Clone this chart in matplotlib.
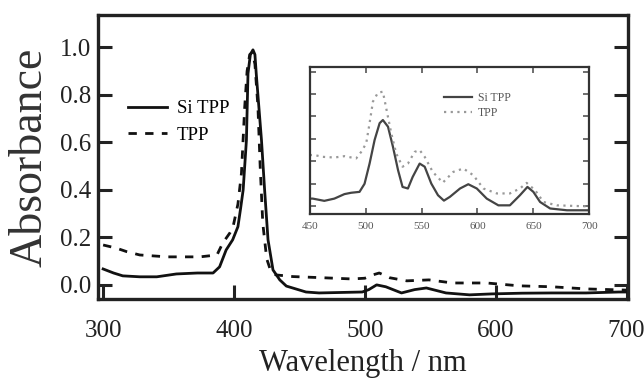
import numpy as np
import matplotlib
matplotlib.use("Agg")
import matplotlib.pyplot as plt

plt.rcParams['font.family'] = ['Liberation Serif', 'DejaVu Serif']

# main spectrum (wavelength nm, absorbance)
wl_sitpp = [300, 308, 315, 328, 341, 356, 372, 384, 389, 394, 399, 403, 405, 407, 409.5,
            410.7, 412.5, 414.5, 416, 417, 419, 421, 423.4, 426, 429.8, 435, 440, 455,
            465, 498, 503, 509, 516, 528, 538, 547, 562, 580, 597, 620, 643, 669, 694, 700]
abs_sitpp = [0.067, 0.05, 0.038, 0.034, 0.034, 0.046, 0.05, 0.05, 0.076, 0.147, 0.19,
             0.245, 0.32, 0.40, 0.61, 0.89, 0.97, 0.99, 0.97, 0.89, 0.75, 0.61, 0.40, 0.19,
             0.063, 0.021, -0.005, -0.03, -0.034, -0.03, -0.02, 0.0, -0.008, -0.034,
             -0.02, -0.013, -0.034, -0.042, -0.038, -0.035, -0.034, -0.034, -0.03, -0.03]

wl_tpp = [300, 310, 318, 328, 349, 374, 387, 391.4, 397, 399.3, 403, 405.7, 408.2, 410,
          412, 414, 416, 418.3, 420, 422, 425, 428, 432, 445, 468, 490, 500, 506, 511,
          519, 532, 549, 567, 593, 618, 643, 669, 694, 700]
abs_tpp = [0.168, 0.155, 0.14, 0.126, 0.118, 0.118, 0.126, 0.176, 0.22, 0.245, 0.34,
           0.47, 0.75, 0.9, 0.97, 0.98, 0.93, 0.75, 0.5, 0.26, 0.11, 0.06, 0.042, 0.035,
           0.03, 0.025, 0.028, 0.042, 0.05, 0.03, 0.017, 0.021, 0.008, 0.008, -0.004,
           -0.008, -0.017, -0.021, -0.022]

# inset (Q-band region, arbitrary scale)
in_wl_sitpp = [450, 452.7, 463, 472, 481, 487, 494.5, 499, 503.5, 508, 512.5, 515.4, 520,
               524.4, 529, 533, 537.8, 542, 548.3, 552.8, 558.7, 564.7, 570, 575.4, 584.4,
               591.8, 599.4, 608.3, 618.7, 629, 638, 644.7, 650, 656, 665, 680, 695, 700]
in_sitpp = [0.0034, 0.0034, 0.0024, 0.0034, 0.0054, 0.006, 0.0064, 0.010, 0.019, 0.0295,
            0.037, 0.0384, 0.0354, 0.0265, 0.016, 0.0086, 0.0079, 0.013, 0.019, 0.0176,
            0.0101, 0.0049, 0.0025, 0.0042, 0.0079, 0.0098, 0.0079, 0.0034, 0.0004,
            0.0004, 0.0049, 0.0086, 0.0064, 0.0019, -0.001, -0.0018, -0.0018, -0.0018]

in_wl_tpp = [450, 454, 461.6, 472, 481, 491.5, 496, 500.5, 503.5, 506.5, 511, 515.4,
             519.3, 522.9, 527.3, 533, 537.8, 543.8, 548.3, 552.8, 560, 569, 578.4, 587.4,
             596.3, 605.3, 617.3, 629, 638, 644, 651.6, 659, 671, 695, 700]
in_tpp = [0.0228, 0.0228, 0.022, 0.0217, 0.0223, 0.0213, 0.0242, 0.028, 0.037, 0.0466,
          0.0506, 0.051, 0.0414, 0.0325, 0.0235, 0.0176, 0.019, 0.0242, 0.025, 0.022,
          0.0153, 0.0105, 0.0153, 0.0168, 0.0138, 0.0079, 0.0057, 0.0057, 0.0079, 0.0104,
          0.0071, 0.0019, 0.0004, 0.0, 0.0]

main_xticks = [300, 400, 500, 600, 700]
main_yticks = [0.0, 0.2, 0.4, 0.6, 0.8, 1.0]
inset_xticks = [450, 500, 550, 600, 650, 700]

fig = plt.figure(figsize=(6.44, 3.83), dpi=100)
ax = fig.add_axes([0.152, 0.219, 0.823, 0.742])

ax.plot(wl_sitpp, abs_sitpp, color='#111111', lw=2.0, label='Si TPP')
ax.plot(wl_tpp, abs_tpp, color='#111111', lw=2.0, ls=(0, (3, 3)), label='TPP')

ax.set_xlim(296, 701)
ax.set_ylim(-0.06, 1.137)
ax.set_xticks(main_xticks)
ax.set_yticks(main_yticks)
ax.set_yticklabels(['%.1f' % v for v in main_yticks])
ax.tick_params(direction='in', length=10, width=2.2, labelsize=18, colors='#222222')
ax.tick_params(axis='x', pad=15)
ax.tick_params(axis='y', pad=5, right=True)
for s in ax.spines.values():
    s.set_linewidth(2.4)
    s.set_color('#222222')

ax.set_xlabel('Wavelength / nm', fontsize=22, color='#222222', labelpad=5)
ax.set_ylabel('Absorbance', fontsize=33, color='#333333', labelpad=6)

ax.legend(loc='upper left', bbox_to_anchor=(0.057, 0.70), frameon=False, fontsize=13.5,
          handlelength=2.1, handletextpad=0.5, labelspacing=0.5, borderpad=0,
          borderaxespad=0)

# inset
ins = fig.add_axes([0.481, 0.441, 0.434, 0.384])
ins.plot(in_wl_sitpp, in_sitpp, color='#444444', lw=1.6, label='Si TPP')
ins.plot(in_wl_tpp, in_tpp, color='#999999', lw=1.6, ls=(0, (1, 2)), label='TPP')
ins.set_xlim(450, 700)
ins.set_ylim(-0.0035, 0.062)
ins.set_xticks(inset_xticks)
ins.set_yticks(np.arange(0, 0.061, 0.01))
ins.set_yticklabels([])
ins.tick_params(direction='in', length=4, width=1.2, labelsize=8, colors='#555555',
                top=True, right=True, pad=6)
for s in ins.spines.values():
    s.set_linewidth(1.6)
    s.set_color('#333333')
ins.legend(loc='upper left', bbox_to_anchor=(0.48, 0.83), frameon=False, fontsize=8.5,
           handlelength=2.4, handletextpad=0.5, labelspacing=0.25, borderpad=0,
           borderaxespad=0, labelcolor='#555555')

fig.savefig('out.png', dpi=100)
